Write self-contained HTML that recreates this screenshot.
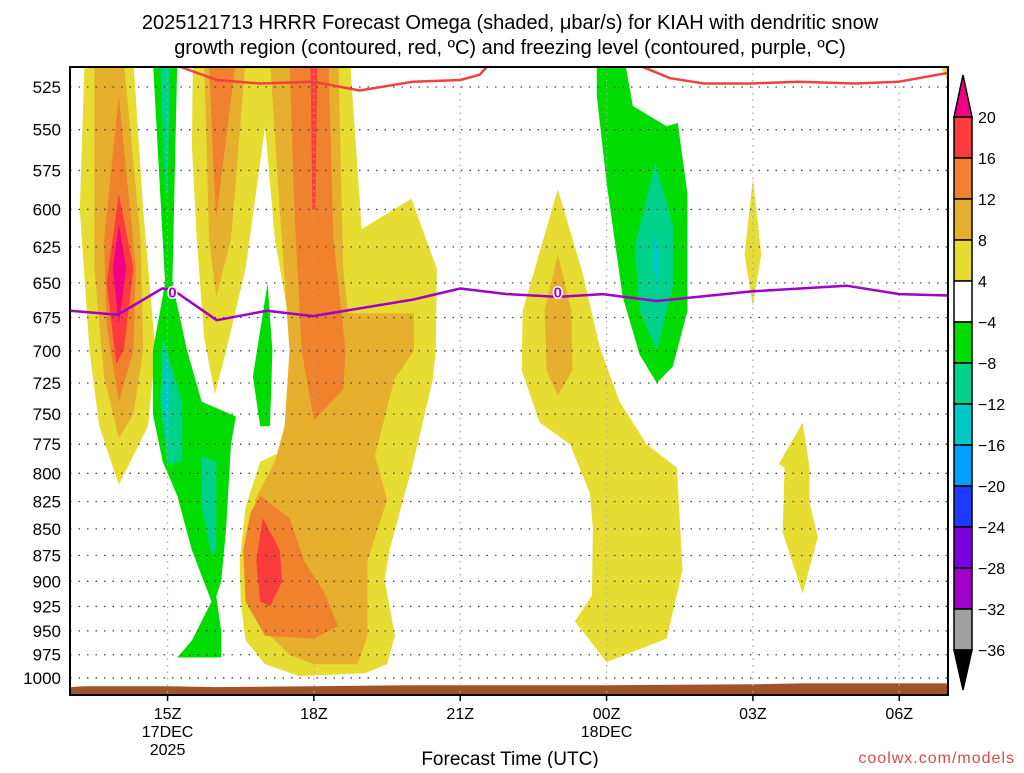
<!DOCTYPE html>
<html><head><meta charset="utf-8"><title>HRRR Omega KIAH</title>
<style>
body{margin:0;background:#fff;width:1024px;height:768px;overflow:hidden;font-family:"Liberation Sans",sans-serif;}
svg text{font-family:"Liberation Sans",sans-serif;}
</style></head>
<body>
<svg id="chart" width="1024" height="768" viewBox="0 0 1024 768" xmlns="http://www.w3.org/2000/svg">
<rect x="0" y="0" width="1024" height="768" fill="#fff"/>
<text x="510" y="29" font-size="20" text-anchor="middle" fill="#000">2025121713 HRRR Forecast Omega (shaded, μbar/s) for KIAH with dendritic snow</text>
<text x="510" y="54" font-size="20" text-anchor="middle" fill="#000">growth region (contoured, red, ºC) and freezing level (contoured, purple, ºC)</text>
<defs><clipPath id="plotclip"><rect x="70" y="67" width="878" height="628"/></clipPath></defs>
<g id="fills" clip-path="url(#plotclip)"></g>
<g id="grid"></g>
<g id="lines" clip-path="url(#plotclip)"></g>
<g id="axes"></g>
<g id="cbar"></g>
<text x="510" y="765" font-size="19" text-anchor="middle" fill="#000">Forecast Time (UTC)</text>
<text x="1015" y="763" font-size="16" text-anchor="end" fill="#e04848" letter-spacing="1">coolwx.com/models</text>
</svg>
<script>
// ---- data (hours since 17DEC 00Z, pressure hPa) ----
const pressureTicks = [525,550,575,600,625,650,675,700,725,750,775,800,825,850,875,900,925,950,975,1000];
const timeTicks = [15,18,21,24,27,30];
const timeLabels = ["15Z","18Z","21Z","00Z","03Z","06Z"];
const cbarLevels = [20,16,12,8,4,-4,-8,-12,-16,-20,-24,-28,-32,-36];
const freezeHours = [13.0,13.98,14.89,15.11,16.01,17.04,17.98,20.03,21.0,21.96,23.0,23.92,25.03,27.0,28.92,30.0,31.0];
const freezePress = [670,673,654,655,677,670,674,662,654,658,660,658,663,656,652,658,659];
const dgzHoursA = [15.1,16.01,16.9,17.98,18.94,20.03,21.0,21.4,21.6];
const dgzPressA = [512,521,523,522,527,522,521,518,512];
const dgzHoursB = [24.6,25.3,26.0,26.97,27.93,29.1,30.0,31.0];
const dgzPressB = [512,520,523,523,522,523,522,517];
const surfHours = [13.0,13.3,15.0,16.0,18.0,20.0,24.0,27.0,28.0,31.0];
const surfPress = [1010,1009,1009,1010,1009,1008,1008,1007,1006,1006];

const yellowA = [[13.3,510],[14.3,510],[14.5,600],[14.75,700],[14.6,760],[14.0,810],[13.6,760],[13.4,700],[13.2,600]];
const goldA = [[13.5,510],[14.1,510],[14.45,620],[14.5,700],[14.3,750],[14.0,770],[13.7,720],[13.5,640]];
const orangeA = [[14.0,530],[14.35,640],[14.3,700],[14.0,740],[13.75,680],[13.7,620]];
const redA = [[14.0,590],[14.3,640],[14.1,700],[13.95,710],[13.75,650]];
const magentaA = [[14.0,610],[14.15,640],[14.0,680],[13.88,640]];
const yellowB = [[15.52,510],[18.74,510],[18.98,613],[20.0,593],[20.52,640],[20.5,700],[20.44,722],[20.03,792],[19.56,868],[19.45,898],[19.66,955],[19.5,985],[19.05,995],[17.7,998],[17.0,985],[16.6,960],[16.5,920],[16.48,880],[16.6,830],[16.9,790],[17.4,780],[17.55,740],[17.6,700],[17.2,620],[17.0,548],[16.6,640],[16.2,700],[15.97,734],[15.75,690],[15.6,620],[15.5,560]];
const goldB1 = [[15.75,510],[16.6,510],[16.3,620],[16.0,660],[15.85,620],[15.8,560]];
const orangeB1 = [[15.85,510],[16.4,510],[16.1,580],[16.0,605],[15.95,580]];
const goldB2 = [[17.1,510],[18.5,510],[18.6,640],[18.7,672],[20.05,672],[20.05,700],[19.65,722],[19.25,785],[19.5,823],[19.1,880],[19.1,955],[18.9,985],[18.0,985],[17.5,975],[17.0,950],[16.8,910],[16.7,860],[16.8,823],[17.2,790],[17.4,760],[17.5,700],[17.3,600]];
const orangeB2 = [[17.5,510],[18.3,510],[18.4,620],[18.65,700],[18.6,730],[18.0,755],[17.75,700],[17.6,600]];
const redB2 = [[17.93,510],[18.07,510],[18.03,600],[17.97,600]];
const orangeB3 = [[16.9,820],[17.5,840],[17.8,880],[18.2,910],[18.5,945],[18.0,958],[17.0,955],[16.6,920],[16.55,870],[16.7,835]];
const redB3 = [[16.95,840],[17.3,870],[17.35,900],[17.1,925],[16.9,920],[16.82,880]];
const greenA = [[14.7,510],[15.2,510],[15.1,650],[15.4,700],[15.7,740],[16.0,745],[16.4,752],[16.3,775],[16.2,850],[16.1,900],[16.0,915],[16.1,950],[16.1,978],[15.2,978],[15.5,960],[15.9,920],[15.5,870],[15.2,820],[14.9,790],[14.7,750],[14.7,700],[14.95,650]];
const tealA1 = [[14.85,510],[15.05,510],[15.0,590],[14.95,590]];
const tealA2 = [[14.9,690],[15.3,740],[15.3,790],[15.0,792],[14.85,740]];
const tealA3 = [[15.7,785],[16.0,790],[16.0,870],[15.9,875],[15.7,830]];
const cyanA = [[14.95,700],[15.05,720],[15.0,770],[14.9,750]];
const greenB = [[17.05,650],[17.15,700],[17.1,760],[16.9,760],[16.75,720]];
const yellowC = [[23.0,587],[23.5,642],[23.86,697],[24.27,740],[24.82,775],[25.44,795],[25.56,889],[25.23,958],[24.0,983],[23.35,940],[23.7,914],[23.72,850],[23.66,818],[23.25,775],[22.63,757],[22.26,715],[22.28,670]];
const goldC = [[23.0,630],[23.28,670],[23.3,715],[23.0,735],[22.77,715],[22.73,670]];
const greenC = [[23.8,510],[24.37,510],[24.54,536],[25.23,548],[25.46,546],[25.66,590],[25.66,670],[25.36,712],[25.03,725],[24.68,703],[24.33,660],[24.0,583],[23.8,530]];
const tealC = [[25.0,570],[25.36,610],[25.36,653],[25.03,700],[24.68,670],[24.58,625]];
const cyanC = [[25.0,615],[25.1,630],[25.03,660],[24.95,630]];
const yellowD = [[27.0,580],[27.17,630],[27.0,667],[26.83,630]];
const yellowE = [[28.02,757],[28.16,795],[28.16,826],[28.33,858],[28.02,912],[27.61,853],[27.65,795],[27.53,792]];
const yellowF = [[30.8,510],[31.2,510],[31.2,535]];

const shapes = [
 ["yellow-region-a",yellowA,"#e6dc32"],["gold-region-a",goldA,"#e6af2d"],["orange-region-a",orangeA,"#f0822d"],["red-region-a",redA,"#fa3c3c"],["magenta-region-a",magentaA,"#f00082"],
 ["yellow-region-b",yellowB,"#e6dc32"],["gold-region-b1",goldB1,"#e6af2d"],["orange-region-b1",orangeB1,"#f0822d"],["gold-region-b2",goldB2,"#e6af2d"],["orange-region-b2",orangeB2,"#f0822d"],["red-region-b2",redB2,"#fa3c3c"],["orange-region-b3",orangeB3,"#f0822d"],["red-region-b3",redB3,"#fa3c3c"],
 ["green-region-a",greenA,"#00dc00"],["teal-region-a1",tealA1,"#00d28c"],["teal-region-a2",tealA2,"#00d28c"],["teal-region-a3",tealA3,"#00d28c"],["cyan-region-a",cyanA,"#00c8c8"],["green-region-b",greenB,"#00dc00"],
 ["yellow-region-c",yellowC,"#e6dc32"],["gold-region-c",goldC,"#e6af2d"],["green-region-c",greenC,"#00dc00"],["teal-region-c",tealC,"#00d28c"],["cyan-region-c",cyanC,"#00c8c8"],
 ["yellow-region-d",yellowD,"#e6dc32"],["yellow-region-e",yellowE,"#e6dc32"],["yellow-region-f",yellowF,"#e6dc32"]
];
const cbarColors = ["#f00082","#fa3c3c","#f0822d","#e6af2d","#e6dc32","#ffffff","#00dc00","#00d28c","#00c8c8","#00a0ff","#1e3cff","#7800dc","#a000c8","#a0a0a0","#000000"];

// ---- axes ----
const X0=70,X1=948,Y0=67,Y1=695,H0=13,H1=31;
function x(h){return X0+(h-H0)*(X1-X0)/(H1-H0);}
function y(p){return 87+Math.log(p/525)*917.1;}
const NS="http://www.w3.org/2000/svg";
function el(tag,attrs,parent){const e=document.createElementNS(NS,tag);for(const k in attrs)e.setAttribute(k,attrs[k]);parent.appendChild(e);return e;}

const fills=document.getElementById('fills');
shapes.forEach(s=>{
  const pts=s[1].map(d=>x(d[0]).toFixed(1)+","+y(d[1]).toFixed(1)).join(" ");
  const e=el('polygon',{points:pts,fill:s[2]},fills);
  
  
});
// terrain
{
  let pts=surfHours.map((h,i)=>x(h).toFixed(1)+","+y(surfPress[i]).toFixed(1));
  pts.push(x(31)+","+Y1, x(13)+","+Y1);
  const t=el('polygon',{points:pts.join(" "),fill:"#a0522d"},fills);
  
  
}
const grid=document.getElementById('grid');
pressureTicks.forEach(p=>{
  const l=el('line',{x1:X0,x2:X1,y1:y(p),y2:y(p),stroke:"#444","stroke-width":1.3,"stroke-dasharray":"1.5 7"},grid);
  
  
});
timeTicks.forEach(h=>{
  const l=el('line',{x1:x(h),x2:x(h),y1:Y0,y2:Y1,stroke:"#aaa","stroke-width":1.3,"stroke-dasharray":"1.5 5"},grid);
  
  
});
const lines=document.getElementById('lines');
function poly(hs,ps,color,name){
  const pts=hs.map((h,i)=>x(h).toFixed(1)+","+y(ps[i]).toFixed(1)).join(" ");
  const e=el('polyline',{points:pts,fill:"none",stroke:color,"stroke-width":2.5,"stroke-linejoin":"round"},lines);
  
  
}
poly(dgzHoursA,dgzPressA,"#f04040","dendritic-contour-a");
poly(dgzHoursB,dgzPressB,"#f04040","dendritic-contour-b");
poly(freezeHours,freezePress,"#a000c8","freezing-level-line");
[15.1,23.0].forEach(h=>{
  const t=el('text',{x:x(h),y:y(656)+6,"font-size":15,"font-weight":"bold","text-anchor":"middle",fill:"#a000c8",stroke:"#fff","stroke-width":3,"paint-order":"stroke"},lines);
  t.textContent="0";
  
  
});
const axes=document.getElementById('axes');
{const f=el('rect',{x:X0,y:Y0,width:X1-X0,height:Y1-Y0,fill:"none",stroke:"#000","stroke-width":2},axes);
 
 }
pressureTicks.forEach(p=>{
  const t=el('text',{x:61,y:y(p)+6,"font-size":17,"text-anchor":"end",fill:"#000"},axes);
  t.textContent=p;
  
  
});
timeTicks.forEach((h,i)=>{
  el('line',{x1:x(h),x2:x(h),y1:Y1,y2:Y1+6,stroke:"#000","stroke-width":1.5},axes);
  const t=el('text',{x:x(h),y:719,"font-size":16,"text-anchor":"middle",fill:"#000"},axes);
  t.textContent=timeLabels[i];
  
  
});
[["17DEC",15,737],["2025",15,755],["18DEC",24,737]].forEach(d=>{
  const t=el('text',{x:x(d[1]),y:d[2],"font-size":16,"text-anchor":"middle",fill:"#000"},axes);
  t.textContent=d[0];
  
  
});
// colorbar
const cb=document.getElementById('cbar');
const CX0=954,CX1=972,CT=117,STEP=41;
el('polygon',{points:`${CX0},${CT} ${CX1},${CT} ${(CX0+CX1)/2},75`,fill:cbarColors[0],stroke:"#000","stroke-width":1.5},cb);
for(let i=0;i<cbarLevels.length-1;i++){
  const r=el('rect',{x:CX0,y:CT+i*STEP,width:CX1-CX0,height:STEP,fill:cbarColors[i+1],stroke:"#000","stroke-width":1.5},cb);
  
  
}
const CB=CT+(cbarLevels.length-1)*STEP;
el('polygon',{points:`${CX0},${CB} ${CX1},${CB} ${(CX0+CX1)/2},${CB+40}`,fill:cbarColors[cbarColors.length-1],stroke:"#000","stroke-width":1.5},cb);
cbarLevels.forEach((v,i)=>{
  const t=el('text',{x:978,y:CT+i*STEP+6,"font-size":16,fill:"#000"},cb);
  t.textContent=(v<0?"\u2212"+(-v):String(v));
  
  
});
</script>
</body></html>
